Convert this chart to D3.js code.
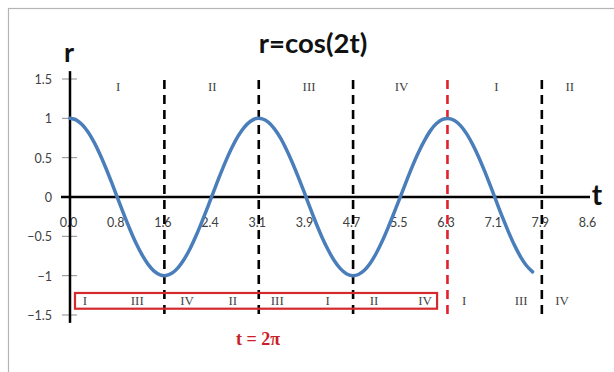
<!DOCTYPE html>
<html>
<head>
<meta charset="utf-8">
<script src="https://cdn.jsdelivr.net/npm/d3@7"></script>
<style>
  html, body { margin: 0; padding: 0; background: #fff; }
  svg { display: block; }
</style>
</head>
<body>
<svg id="chart" width="614" height="372"></svg>
<script>
// r = cos(2t), sampled every 0.1 in t
const tValues = [
  0.0, 0.1, 0.2, 0.3, 0.4, 0.5, 0.6, 0.7, 0.8, 0.9,
  1.0, 1.1, 1.2, 1.3, 1.4, 1.5, 1.6, 1.7, 1.8, 1.9,
  2.0, 2.1, 2.2, 2.3, 2.4, 2.5, 2.6, 2.7, 2.8, 2.9,
  3.0, 3.1, 3.2, 3.3, 3.4, 3.5, 3.6, 3.7, 3.8, 3.9,
  4.0, 4.1, 4.2, 4.3, 4.4, 4.5, 4.6, 4.7, 4.8, 4.9,
  5.0, 5.1, 5.2, 5.3, 5.4, 5.5, 5.6, 5.7, 5.8, 5.9,
  6.0, 6.1, 6.2, 6.3, 6.4, 6.5, 6.6, 6.7, 6.8, 6.9,
  7.0, 7.1, 7.2, 7.3, 7.4, 7.5, 7.6, 7.7
];
const rValues = [
  1.000, 0.980, 0.921, 0.825, 0.697, 0.540, 0.362, 0.170, -0.029, -0.227,
  -0.416, -0.589, -0.737, -0.857, -0.942, -0.990, -0.998, -0.967, -0.897, -0.791,
  -0.654, -0.490, -0.307, -0.112, 0.087, 0.284, 0.469, 0.635, 0.776, 0.886,
  0.960, 0.997, 0.993, 0.951, 0.869, 0.754, 0.608, 0.439, 0.253, 0.058,
  -0.146, -0.340, -0.520, -0.677, -0.811, -0.911, -0.975, -1.000, -0.985, -0.932,
  -0.839, -0.712, -0.557, -0.380, -0.190, 0.004, 0.202, 0.393, 0.567, 0.717,
  0.844, 0.934, 0.986, 0.999, 0.973, 0.907, 0.806, 0.672, 0.512, 0.331,
  0.137, -0.063, -0.260, -0.446, -0.615, -0.760, -0.874, -0.952
];

// axis ticks
const tTicks = [0, 0.785, 1.571, 2.356, 3.142, 3.927, 4.712, 5.498, 6.283, 7.069, 7.854, 8.639];
const rTicks = [-1.5, -1, -0.5, 0, 0.5, 1, 1.5];

// quarter-period dividers (t = 2π highlighted)
const dividerT = [1.571, 3.142, 4.712, 6.283, 7.854];
const dividerHighlight = [false, false, false, true, false];

// quadrant labels along the top row
const topQuadText = ["I", "II", "III", "IV", "I", "II"];
const topQuadT = [0.80, 2.37, 3.98, 5.52, 7.10, 8.32];

// quadrant labels along the bottom row
const bottomQuadText = ["I", "III", "IV", "II", "III", "I", "II", "IV", "I", "III", "IV"];
const bottomQuadT = [0.25, 1.12, 1.95, 2.71, 3.45, 4.29, 5.06, 5.91, 6.56, 7.51, 8.19];

// boxed span of the first full cycle
const boxT = [0.083, 6.11];
const boxR = [-1.22, -1.42];

const svg = d3.select("#chart");

// chart frame
svg.append("rect")
  .attr("x", 8.5).attr("y", 8.5)
  .attr("width", 640).attr("height", 400)
  .attr("fill", "#fff")
  .attr("stroke", "#b4b4b4").attr("stroke-width", 1.2);

const x = d3.scaleLinear().domain([0, 8.639]).range([70, 589]);
const y = d3.scaleLinear().domain([-1.5, 1.5]).range([315, 79]);

const labelFont = "Lato, 'Open Sans', sans-serif";
const serifFont = "'Liberation Serif', 'DejaVu Serif', serif";

// title
svg.append("text")
  .attr("x", 313).attr("y", 53)
  .attr("text-anchor", "middle")
  .attr("font-family", labelFont)
  .attr("font-weight", "bold")
  .attr("font-size", 27.5)
  .attr("fill", "#111")
  .text("r=cos(2t)");

// y axis: cross ticks and labels
const yAxis = d3.axisLeft(y).tickValues(rTicks).tickSize(0).tickPadding(0)
  .tickFormat(d => d3.format("")(d));
const yg = svg.append("g").attr("transform", "translate(52,0)").call(yAxis);
yg.select(".domain").remove();
yg.selectAll("text")
  .attr("font-family", labelFont).attr("font-size", 12.5).attr("fill", "#404040")
  .attr("dy", "0.35em");
svg.append("g").selectAll("line").data(rTicks).join("line")
  .attr("x1", 62).attr("x2", 77)
  .attr("y1", d => y(d)).attr("y2", d => y(d))
  .attr("stroke", "#8c8c8c").attr("stroke-width", 1);

// x axis labels
const xAxis = d3.axisBottom(x).tickValues(tTicks).tickSize(0).tickPadding(0)
  .tickFormat(d3.format(".1f"));
const xg = svg.append("g").attr("transform", `translate(-2,${y(0) + 21})`).call(xAxis);
xg.select(".domain").remove();
xg.selectAll("text")
  .attr("font-family", labelFont).attr("font-size", 12.5).attr("fill", "#404040");

// dividers
svg.append("g").selectAll("line").data(dividerT).join("line")
  .attr("x1", d => x(d)).attr("x2", d => x(d))
  .attr("y1", y(1.5) + 1).attr("y2", y(-1.53))
  .attr("stroke", (d, i) => dividerHighlight[i] ? "#e0202c" : "#000")
  .attr("stroke-width", 2.6)
  .attr("stroke-dasharray", "9,6");

// axis lines
svg.append("line")
  .attr("x1", x(0)).attr("x2", x(0))
  .attr("y1", y(1.6)).attr("y2", y(-1.6))
  .attr("stroke", "#000").attr("stroke-width", 2.5);
svg.append("line")
  .attr("x1", 61).attr("x2", x(8.639) + 1)
  .attr("y1", y(0)).attr("y2", y(0))
  .attr("stroke", "#000").attr("stroke-width", 2.5);

// axis names
svg.append("text")
  .attr("x", 69).attr("y", 62)
  .attr("text-anchor", "middle")
  .attr("font-family", labelFont).attr("font-weight", "bold").attr("font-size", 27)
  .attr("fill", "#111").text("r");
svg.append("text")
  .attr("x", 597).attr("y", 205)
  .attr("text-anchor", "middle")
  .attr("font-family", labelFont).attr("font-weight", "bold").attr("font-size", 28)
  .attr("fill", "#111").text("t");

// curve
const line = d3.line()
  .x((d, i) => x(tValues[i]))
  .y(d => y(d))
  .curve(d3.curveCatmullRom);
svg.append("path")
  .datum(rValues)
  .attr("d", line)
  .attr("fill", "none")
  .attr("stroke", "#4a7ebb")
  .attr("stroke-width", 3.5)
  .attr("stroke-linecap", "round");

// quadrant labels, top row
svg.append("g").selectAll("text").data(topQuadText).join("text")
  .attr("x", (d, i) => x(topQuadT[i]))
  .attr("y", y(1.4))
  .attr("dy", "0.35em")
  .attr("text-anchor", "middle")
  .attr("font-family", serifFont).attr("font-size", 13)
  .attr("fill", "#444")
  .text(d => d);

// boxed span
svg.append("rect")
  .attr("x", x(boxT[0])).attr("y", y(boxR[0]))
  .attr("width", x(boxT[1]) - x(boxT[0]))
  .attr("height", y(boxR[1]) - y(boxR[0]))
  .attr("fill", "none")
  .attr("stroke", "#d42a2e").attr("stroke-width", 2.2);

// quadrant labels, bottom row
svg.append("g").selectAll("text").data(bottomQuadText).join("text")
  .attr("x", (d, i) => x(bottomQuadT[i]))
  .attr("y", y(-1.32))
  .attr("dy", "0.35em")
  .attr("text-anchor", "middle")
  .attr("font-family", serifFont).attr("font-size", 13)
  .attr("fill", "#444")
  .text(d => d);

// annotation for the highlighted divider
svg.append("text")
  .attr("x", 258).attr("y", 345)
  .attr("text-anchor", "middle")
  .attr("font-family", serifFont).attr("font-weight", "bold").attr("font-size", 18)
  .attr("fill", "#c8202a")
  .text("t = 2π");
</script>
</body>
</html>
